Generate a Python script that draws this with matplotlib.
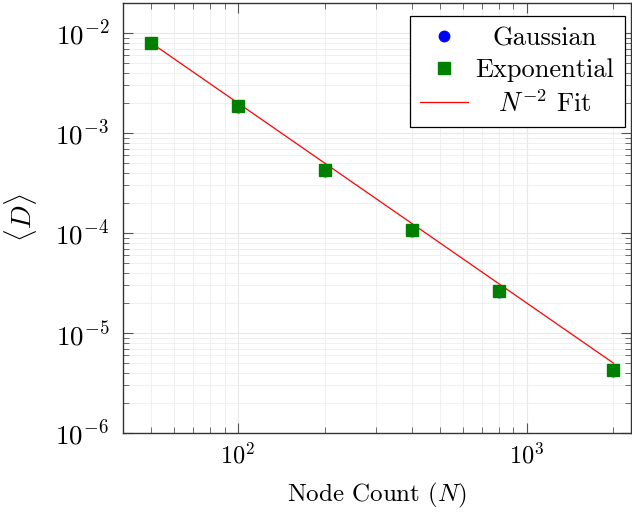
import numpy as np
import matplotlib
matplotlib.use("Agg")
import matplotlib.pyplot as plt

plt.rcParams['font.family'] = 'serif'
plt.rcParams['font.serif'] = ['cmr10', 'DejaVu Serif']
plt.rcParams['mathtext.fontset'] = 'cm'
plt.rcParams['axes.formatter.use_mathtext'] = True
plt.rcParams['axes.unicode_minus'] = False

# Data
node_counts = [50, 100, 200, 400, 800, 2000]
gaussian = [7.9e-3, 1.83e-3, 4.2e-4, 1.04e-4, 2.56e-5, 4.17e-6]
exponential = [7.95e-3, 1.87e-3, 4.28e-4, 1.08e-4, 2.64e-5, 4.29e-6]
fit_coef = 20.0
fit_exponent = -2

fig = plt.figure(figsize=(6.32, 5.12), dpi=100)
ax = fig.add_axes([123/632, 79/512, 508/632, 430/512])

N = np.array(node_counts, dtype=float)
ax.plot(N, fit_coef * N**fit_exponent, color='#ff0000', lw=0.9, zorder=2,
        label=r'$N^{-2}$ Fit')
ax.plot(node_counts, gaussian, 'o', color='#0000ff', ms=7.5, ls='none',
        zorder=3, label='Gaussian')
ax.plot(node_counts, exponential, 's', color='#008000', ms=8.5, ls='none',
        zorder=4, label='Exponential')

ax.set_xscale('log')
ax.set_yscale('log')
ax.set_xlim(40, 2300)
ax.set_ylim(1e-6, 2e-2)

ax.grid(True, which='major', color='#e8e8e8', lw=0.8)
ax.grid(True, which='minor', color='#ececec', lw=0.6)
ax.set_axisbelow(True)

ax.tick_params(which='both', direction='in', top=True, right=True,
               color='#555555')
ax.tick_params(axis='x', labelsize=17.5, pad=7)
ax.tick_params(axis='y', labelsize=19.5, pad=10)
ax.tick_params(which='major', length=7.5, width=0.8)
ax.tick_params(which='minor', length=4.5, width=0.6)
for s in ax.spines.values():
    s.set_color('#333333')
    s.set_linewidth(1.0)

ax.set_xlabel(r'Node Count ($N$)', fontsize=18, labelpad=9)
ax.set_ylabel(r'$\langle D\rangle$', fontsize=20, labelpad=12)

h, l = ax.get_legend_handles_labels()
order = [1, 2, 0]
leg = ax.legend([h[i] for i in order], [l[i] for i in order], loc='upper right',
                bbox_to_anchor=(1 - 6/508, 1 - 13/430), borderaxespad=0,
                fontsize=19, numpoints=1, frameon=True, fancybox=False,
                edgecolor='black', framealpha=1,
                handlelength=1.8, handletextpad=0.3, labelspacing=0.3,
                borderpad=0.4)
leg.get_frame().set_linewidth(0.9)

fig.canvas.draw()
texts = leg.get_texts()
widths = [t.get_window_extent().width for t in texts]
mw = max(widths)
for t, w in zip(texts, widths):
    t.set_x((mw - w) / 2)

fig.savefig('out.png', dpi=100)
